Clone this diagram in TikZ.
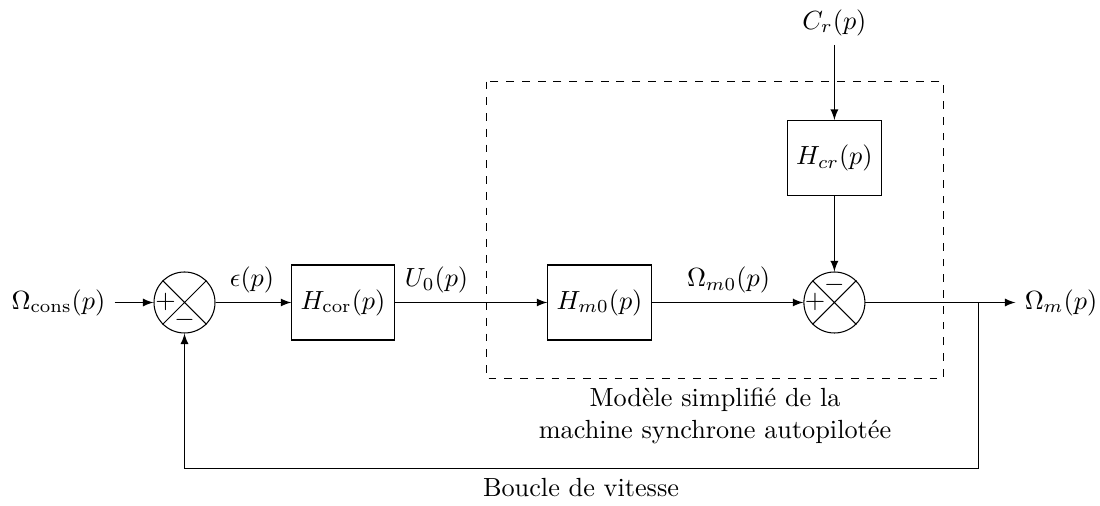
\documentclass[tikz,border=0pt]{standalone}
\usetikzlibrary{arrows.meta}
\begin{document}
\begin{tikzpicture}[x=0.381pt,y=-0.381pt,
  blockbox/.style={draw,minimum height=75*0.381pt},
  sumnode/.style={draw,circle,minimum size=61*0.381pt,inner sep=0pt},
  lab/.style={inner sep=0pt,anchor=base},
  sign/.style={inner sep=0pt},
  wire/.style={-latex}]
\useasboundingbox (0,0) rectangle (1100,506);
\node (in) at (58.5,302.5) {$\Omega_{\mathrm{cons}}(p)$};
\node[sumnode] (s1) at (184.5,302.5) {};
\draw (s1.north west)--(s1.south east) (s1.north east)--(s1.south west);
\node[sign] (s1p) at (165.5,302) {$+$};
\node[sign] (s1m) at (184.5,320) {$-$};
\node[blockbox] (cor) at (343,302.5) {$H_{\mathrm{cor}}(p)$};
\node[blockbox] (m0) at (599.5,302.5) {$H_{m0}(p)$};
\node[sumnode] (s2) at (834.4,302.5) {};
\draw (s2.north west)--(s2.south east) (s2.north east)--(s2.south west);
\node[sign] (s2p) at (815,302) {$+$};
\node[sign] (s2m) at (834.4,285) {$-$};
\node[blockbox] (cr) at (834.4,158) {$H_{cr}(p)$};
\node (cin) at (834.4,22.5) {$C_r(p)$};
\node (out) at (1061,302.5) {$\Omega_m(p)$};
\coordinate (tap) at (978.4,302.5);
\coordinate (low) at (978.4,468.6);
\coordinate (lows) at (s1 |- low);
\draw[wire] (in)--(s1);
\draw[wire] (s1)--(cor);
\draw[wire] (cor)--(m0);
\draw[wire] (m0)--(s2);
\draw[wire] (s2)--(out);
\draw[wire] (cin)--(cr);
\draw[wire] (cr)--(s2);
\draw[wire] (tap)--(low)--(lows)--(s1);
\draw[dashed] (486.4,81.6) rectangle (943.4,378.6);
\node[lab] (leps) at (252,286.5) {$\epsilon(p)$};
\node[lab] (lu) at (436.5,286.5) {$U_0(p)$};
\node[lab] (lom) at (728.5,286.5) {$\Omega_{m0}(p)$};
\node[align=center,inner sep=0pt] (lmod) at (715,416) {Modèle simplifié de la\\machine synchrone autopilotée};
\node[lab] (lbou) at (581,497) {Boucle de vitesse};
\end{tikzpicture}
\end{document}
